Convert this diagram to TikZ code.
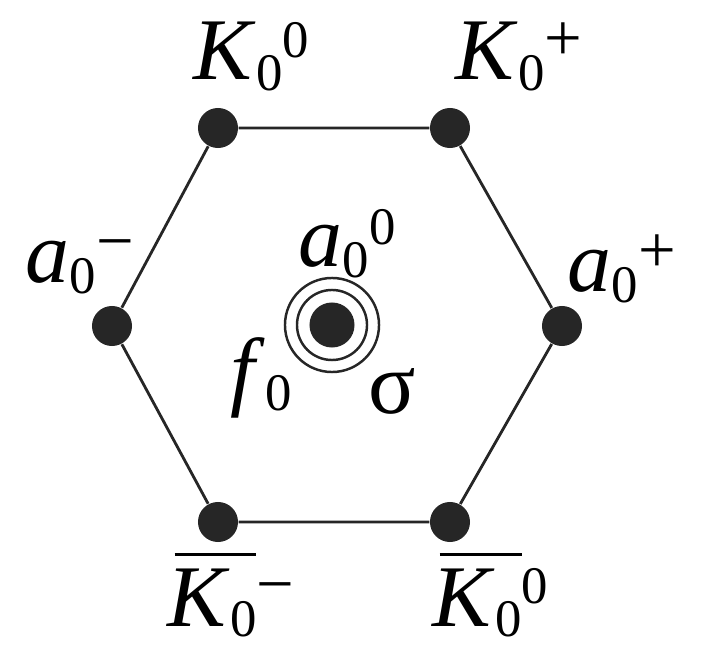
\documentclass[tikz,border=0pt]{standalone}
\usepackage{fontspec}
\setmainfont{Liberation Serif}
\usetikzlibrary{positioning}
\tikzset{meson/.style={
    circle,
    fill=black!85,
    inner sep=0pt,
    minimum size=4mm
  },
  ring/.style={circle,draw=black!85,line width=0.7pt,inner sep=0pt},
  edge/.style={line width=0.8pt,draw=black!85},
  lbl/.style={font=\fontsize{25}{30}\selectfont,inner sep=0pt,anchor=base west},
}
\newcommand{\subz}{\raisebox{-3pt}{\fontsize{15}{15}\selectfont 0}}
\newcommand{\supx}[1]{\raisebox{6.5pt}{\fontsize{15}{15}\selectfont #1}}
\newcommand{\supsign}[1]{\raisebox{5.5pt}{\fontsize{19}{19}\selectfont #1}}
\newcommand{\meslab}[2]{\textit{#1}\subz#2}
\newcommand{\barlab}[1]{\setbox0\hbox{\textit{K}\subz}%
  \rlap{\hspace{2pt}\raisebox{20pt}{\rule{\dimexpr\wd0-2pt\relax}{0.9pt}}}\box0#1}

\begin{document}
\begin{tikzpicture}[x=0.01cm,y=-0.01cm]
  \useasboundingbox (0,0) rectangle (703,646);
  % hexagon corners
  \node [meson] (ktl) at (218,128) {};
  \node [meson] (ktr) at (450,128) {};
  \node [meson] (ar) at (562,326) {};
  \node [meson] (kbr) at (450,522) {};
  \node [meson] (kbl) at (218,522) {};
  \node [meson] (al) at (112,326) {};
  \draw[edge] (ktl) -- (ktr) -- (ar) -- (kbr) -- (kbl) -- (al) -- (ktl);
  % centre
  \node [meson,minimum size=4.5mm] (mid) at (332,325) {};
  \node [ring,minimum size=7mm] (midin) at (mid) {};
  \node [ring,minimum size=9.4mm] (midout) at (mid) {};
  % labels
  \node [lbl] (lktl) at (193,80) {\meslab{K}{\supx{0}}};
  \node [lbl] (lktr) at (455,80) {\meslab{K}{\supsign{+}}};
  \node [lbl] (lal) at (25,283) {\meslab{a}{\supsign{−}}};
  \node [lbl] (lar) at (567,292) {\meslab{a}{\supsign{+}}};
  \node [lbl] (lmid) at (298,267) {\meslab{a}{\supx{0}}};
  \node [lbl] (lf) at (230,400) {\textit{f}\subz};
  \node [lbl] (ls) at (368,413) {σ};
  \node [lbl] (lkbl) at (167,626) {\barlab{\supsign{−}}};
  \node [lbl] (lkbr) at (432,626) {\barlab{\supx{0}}};
\end{tikzpicture}
\end{document}
